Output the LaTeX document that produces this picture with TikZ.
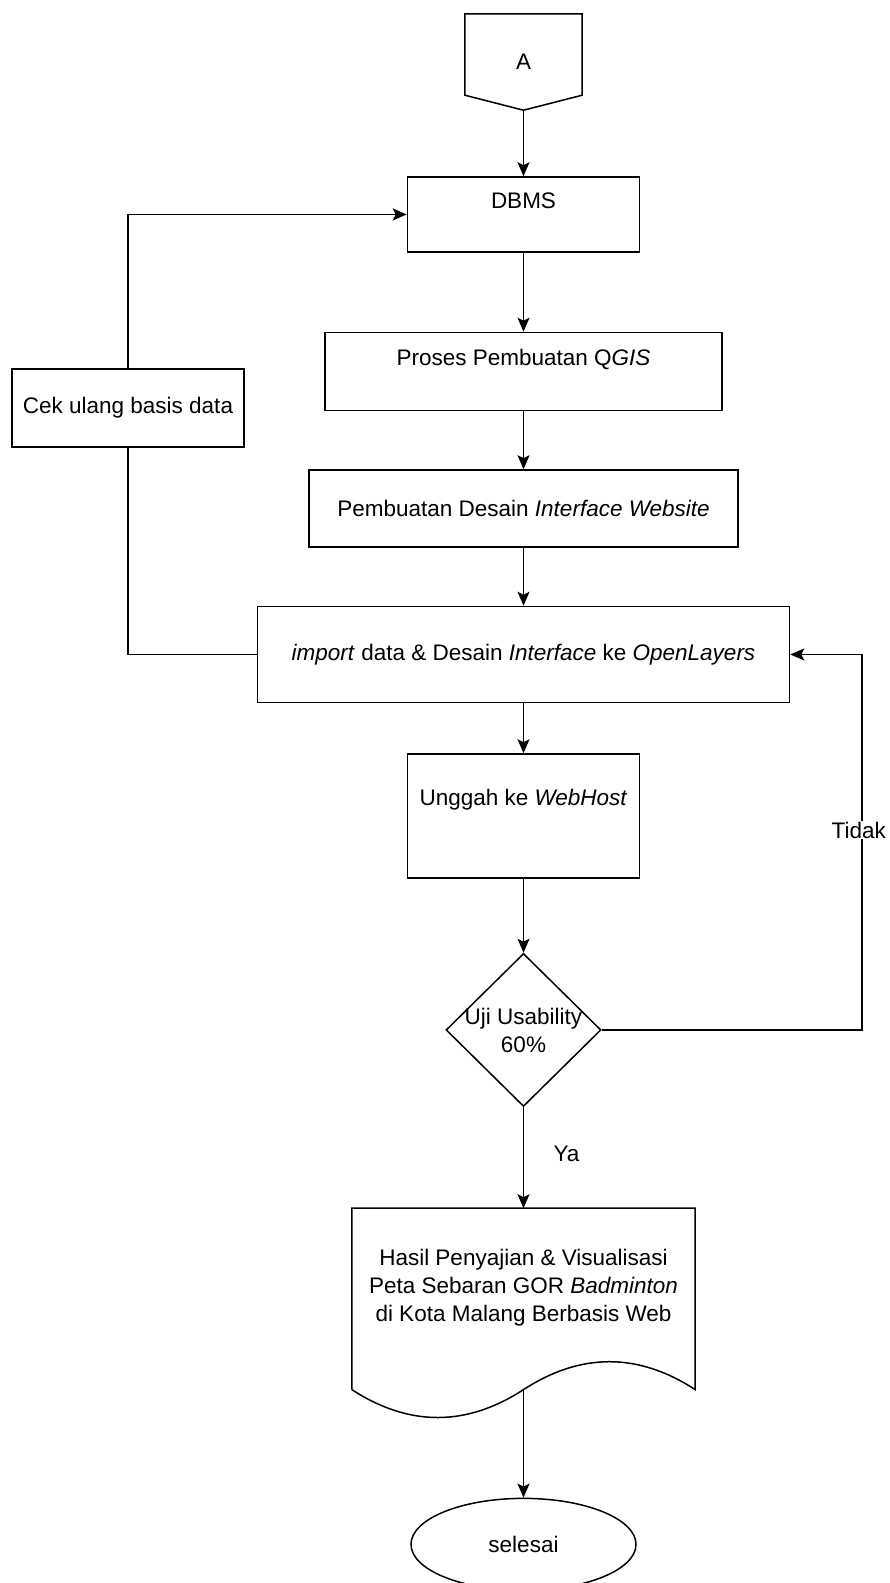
\documentclass[tikz,border=0pt]{standalone}
\usepackage{fontspec}
\setmainfont{Liberation Sans}
\usepackage{tikz}
\usetikzlibrary{shapes.geometric, arrows.meta, positioning, calc}
\tikzset{
    block/.style={rectangle, draw, line width=1.5pt, align=center, inner sep=0pt},
    arrow/.style={draw, line width=1.5pt, -{Stealth[length=14pt, width=12pt, inset=3pt]}},
    plainline/.style={draw, line width=1.5pt},
    decision/.style={diamond, draw, line width=1.5pt, inner sep=0pt, minimum width=155pt, minimum height=153pt},
    terminal/.style={ellipse, draw, line width=1.5pt, inner sep=0pt, minimum width=225pt, minimum height=92pt},
    offpage/.style={rectangle, inner sep=0pt, minimum width=117pt, minimum height=96pt},
    docshape/.style={rectangle, inner sep=0pt, align=center, minimum width=343pt, minimum height=181pt}
}

\begin{document}
\begin{tikzpicture}[x=1pt, y=1pt, node distance=58pt, font=\fontsize{22.5}{28}\selectfont]
    \useasboundingbox (0,0) rectangle (890,-1583);

    \node[offpage] (pageA) at (523.5,-62) {A};
    \path[plainline] (pageA.north west) -- (pageA.north east) -- ($(pageA.south east)+(0,15)$) -- (pageA.south) -- ($(pageA.south west)+(0,15)$) -- cycle;
    \node[block, minimum width=232pt, minimum height=75pt, below=66pt of pageA] (dbms) {DBMS\\~};
    \node[block, minimum width=397pt, minimum height=78pt, below=79pt of dbms] (qgis) {Proses Pembuatan Q\textit{GIS}\\~};
    \node[block, minimum width=429pt, minimum height=77pt, below=of qgis] (desain) {Pembuatan Desain \textit{Interface Website}};
    \node[block, minimum width=532pt, minimum height=96pt, below=of desain] (impor) {\textit{import} data \& Desain \textit{Interface} ke \textit{OpenLayers}};
    \node[block, minimum width=232pt, minimum height=124pt, below=50pt of impor] (unggah) {Unggah ke \textit{WebHost}\\[10pt]~};
    \node[decision, below=74pt of unggah, label={[align=center]center:Uji Usability\\60\%}] (uji) {};
    \node[docshape, below=101pt of uji] (hasil) {Hasil Penyajian \& Visualisasi\\Peta Sebaran GOR \textit{Badminton}\\di Kota Malang Berbasis Web\\~};
    \path[plainline] (hasil.south west) -- (hasil.north west) -- (hasil.north east) -- (hasil.south east)
        .. controls ($(hasil.south east)+(-57.2,37.2)$) and ($(hasil.south east)+(-114.3,37.2)$) .. (hasil.south)
        .. controls ($(hasil.south)+(-57.2,-37.2)$) and ($(hasil.south)+(-114.3,-37.2)$) .. (hasil.south west);
    \node[terminal, below=108pt of hasil] (selesai) {selesai};
    \node[block, minimum width=232pt, minimum height=78pt] (cek) at (128,-408) {Cek ulang basis data};

    \path[arrow] (pageA.south) -- (dbms.north);
    \path[arrow] (dbms) -- (qgis);
    \path[arrow] (qgis) -- (desain);
    \path[arrow] (desain) -- (impor);
    \path[arrow] (impor) -- (unggah);
    \path[arrow] (unggah) -- (uji);
    \path[arrow] (uji.south) -- (hasil.north) node[midway, right=26pt, yshift=4pt] {Ya};
    \path[arrow] (hasil.south) -- (selesai.north);
    \path[arrow] (uji.east) -- ++(260,0) |- (impor.east) node[pos=0.266, xshift=-3pt, fill=white, inner sep=1pt] {Tidak};
    \path[plainline] (impor.west) -| (cek.south);
    \path[arrow] (cek.north) |- (dbms.west);
\end{tikzpicture}
\end{document}
